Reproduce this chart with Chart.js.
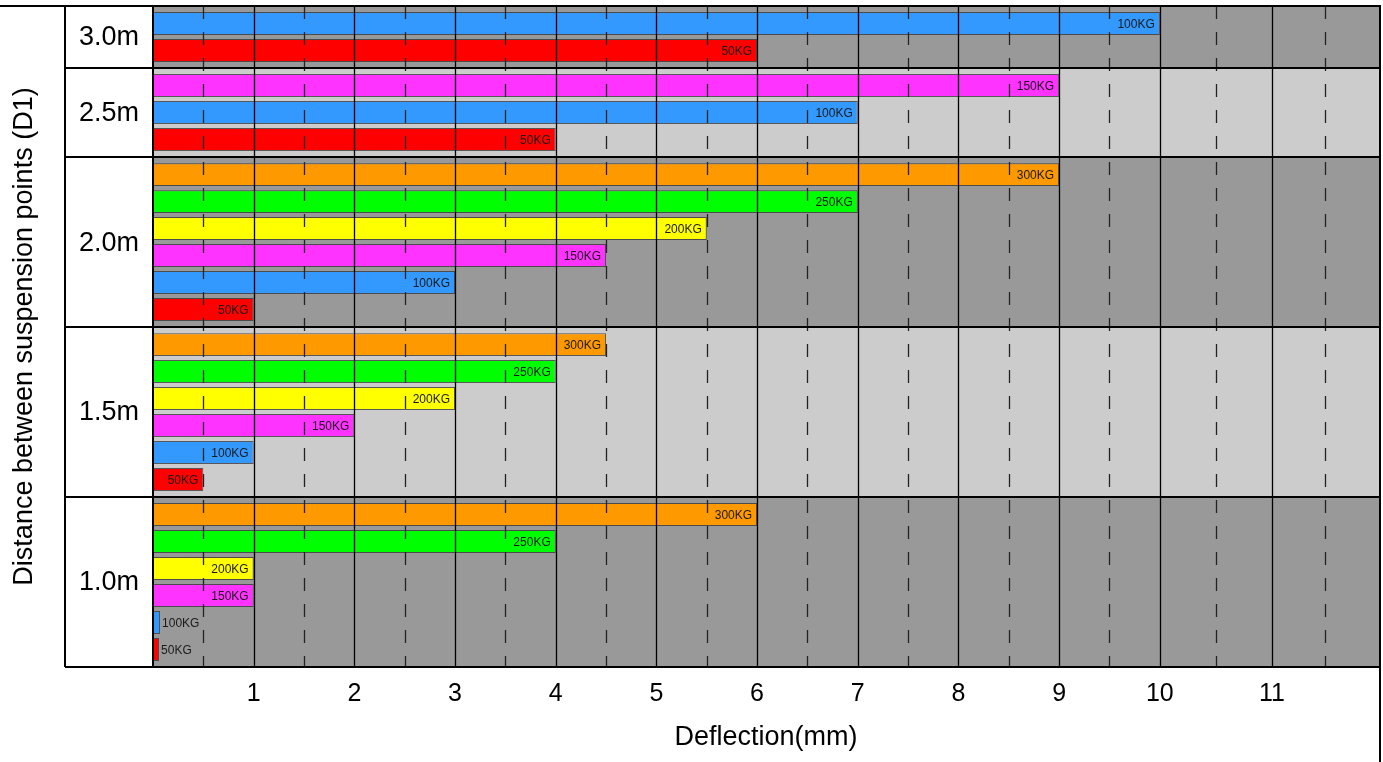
<!DOCTYPE html>
<html>
<head>
<meta charset="utf-8">
<script src="https://cdn.jsdelivr.net/npm/chart.js@4.4.0/dist/chart.umd.min.js"></script>
<style>
  html, body { margin: 0; padding: 0; background: #fff; }
  #wrap { width: 1383px; height: 762px; position: relative; }
</style>
</head>
<body>
<div id="wrap"><canvas id="chart"></canvas></div>
<script>
const distances = ['3.0m', '2.5m', '2.0m', '1.5m', '1.0m'];
const loads = ['50KG', '100KG', '150KG', '200KG', '250KG', '300KG'];

// deflection (mm) per span, listed from 50KG upward
const deflection30 = [6, 10];
const deflection25 = [4, 7, 9];
const deflection20 = [1, 3, 4.5, 5.5, 7, 9];
const deflection15 = [0.5, 1, 2, 3, 4, 4.5];
const deflection10 = [0.06, 0.07, 1, 1, 4, 6];

const xTickLabels = [1, 2, 3, 4, 5, 6, 7, 8, 9, 10, 11];

const loadColors = ['#ff0000', '#3399ff', '#ff33ff', '#ffff00', '#00ff00', '#ff9900'];
const bandColors = ['#999999', '#cccccc'];
const GROUP_GAP = 0.3;
const LABEL_COL_LEFT = 65;
const FONT = '"Liberation Sans", Arial, Helvetica, sans-serif';

// the drawn axis is not evenly spaced past 10mm, so the scale is piecewise
const AXIS_BREAKS = [0, 10, 11, 12];
const AXIS_FRACS = [0, 0.8212, 0.9127, 1];

function toFrac(v) {
  let i = 0;
  while (i < AXIS_BREAKS.length - 2 && v > AXIS_BREAKS[i + 1]) i++;
  const t = (v - AXIS_BREAKS[i]) / (AXIS_BREAKS[i + 1] - AXIS_BREAKS[i]);
  return AXIS_FRACS[i] + t * (AXIS_FRACS[i + 1] - AXIS_FRACS[i]);
}
function fromFrac(f) {
  let i = 0;
  while (i < AXIS_FRACS.length - 2 && f > AXIS_FRACS[i + 1]) i++;
  const t = (f - AXIS_FRACS[i]) / (AXIS_FRACS[i + 1] - AXIS_FRACS[i]);
  return AXIS_BREAKS[i] + t * (AXIS_BREAKS[i + 1] - AXIS_BREAKS[i]);
}

class BrokenLinearScale extends Chart.LinearScale {
  getPixelForValue(value) {
    if (value === null || value === undefined || isNaN(value)) return NaN;
    return this.getPixelForDecimal(toFrac(value));
  }
  getValueForPixel(pixel) {
    return fromFrac(this.getDecimalForPixel(pixel));
  }
}
BrokenLinearScale.id = 'brokenLinear';
BrokenLinearScale.defaults = Chart.LinearScale.defaults;
Chart.register(BrokenLinearScale);

// rows: heaviest load on top inside each span group
const groups = [deflection30, deflection25, deflection20, deflection15, deflection10];
const rows = [];
const spans = [];
let pos = 0;
groups.forEach((vals, g) => {
  if (g > 0) pos += GROUP_GAP;
  const start = pos;
  for (let i = vals.length - 1; i >= 0; i--) {
    rows.push({ x: vals[i], y: pos, load: i });
    pos += 1;
  }
  spans.push({ label: distances[g], from: start - 0.5 - GROUP_GAP / 2, to: pos - 0.5 + GROUP_GAP / 2 });
});

const groupPlugin = {
  id: 'groups',
  beforeDatasetsDraw(chart) {
    const { ctx, chartArea: a, scales: { y } } = chart;
    ctx.save();
    spans.forEach((s, i) => {
      const top = y.getPixelForValue(s.from);
      const bottom = y.getPixelForValue(s.to);
      ctx.fillStyle = bandColors[i % 2];
      ctx.fillRect(a.left, top, a.right - a.left, bottom - top);
    });
    ctx.restore();
  },
  afterDatasetsDraw(chart) {
    const { ctx, chartArea: a, scales: { x, y } } = chart;
    ctx.save();

    // bar labels
    ctx.font = '12px ' + FONT;
    ctx.fillStyle = '#1a1a1a';
    ctx.textBaseline = 'middle';
    const meta = chart.getDatasetMeta(0);
    meta.data.forEach((bar, i) => {
      const { x: end, y: cy, base } = bar.getProps(['x', 'y', 'base'], true);
      const text = loads[rows[i].load];
      const tw = ctx.measureText(text).width;
      if (tw + 9 < end - base) {
        ctx.textAlign = 'right';
        ctx.fillText(text, end - 5, cy + 1);
      } else {
        ctx.textAlign = 'left';
        ctx.fillText(text, end + 2, cy + 1);
      }
    });

    // grid over the bars: solid on whole mm, dashed on halves
    x.ticks.forEach(t => {
      if (t.value <= 0 || t.value >= 12) return;
      const px = Math.round(x.getPixelForValue(t.value)) + 0.5;
      ctx.beginPath();
      if (t.value % 1) {
        ctx.setLineDash([13, 13]);
        ctx.strokeStyle = '#222';
      } else {
        ctx.setLineDash([]);
        ctx.strokeStyle = '#000';
      }
      ctx.lineWidth = 1.3;
      ctx.moveTo(px, a.top);
      ctx.lineTo(px, a.bottom);
      ctx.stroke();
    });
    ctx.setLineDash([]);

    // group separators
    ctx.strokeStyle = '#000';
    ctx.lineWidth = 2;
    spans.forEach(s => {
      const py = y.getPixelForValue(s.to);
      ctx.beginPath();
      ctx.moveTo(LABEL_COL_LEFT, py);
      ctx.lineTo(a.right + 2, py);
      ctx.stroke();
    });

    // frame
    ctx.beginPath();
    ctx.moveTo(0, a.top);
    ctx.lineTo(a.right + 2, a.top);
    ctx.moveTo(a.right + 1, a.top);
    ctx.lineTo(a.right + 1, chart.height);
    ctx.moveTo(LABEL_COL_LEFT, a.top);
    ctx.lineTo(LABEL_COL_LEFT, a.bottom);
    ctx.moveTo(a.left, a.top);
    ctx.lineTo(a.left, a.bottom);
    ctx.stroke();

    // span labels in the left column
    ctx.font = '27px ' + FONT;
    ctx.fillStyle = '#000';
    ctx.textAlign = 'center';
    ctx.textBaseline = 'middle';
    spans.forEach(s => {
      const cy = (y.getPixelForValue(s.from) + y.getPixelForValue(s.to)) / 2;
      ctx.fillText(s.label, (LABEL_COL_LEFT + a.left) / 2, cy + 1);
    });
    ctx.restore();
  }
};

Chart.defaults.font.family = FONT;
Chart.defaults.color = '#000';

new Chart(document.getElementById('chart'), {
  type: 'bar',
  data: {
    datasets: [{
      data: rows.map(r => ({ x: r.x, y: r.y })),
      backgroundColor: rows.map(r => loadColors[r.load]),
      borderColor: 'rgba(50, 50, 50, 0.75)',
      borderWidth: 1,
      borderSkipped: false,
      barPercentage: 0.85,
      categoryPercentage: 1
    }]
  },
  options: {
    indexAxis: 'y',
    responsive: true,
    maintainAspectRatio: false,
    animation: false,
    layout: { padding: { top: 6, right: 4, left: 0, bottom: 0 } },
    plugins: { legend: { display: false }, tooltip: { enabled: false } },
    scales: {
      x: {
        type: 'brokenLinear',
        min: 0,
        max: 12,
        grid: { display: false, drawTicks: false },
        border: { display: true, color: '#000', width: 2 },
        ticks: {
          stepSize: 0.5,
          autoSkip: false,
          maxRotation: 0,
          padding: 12,
          font: { size: 25 },
          color: '#000',
          callback: v => xTickLabels.includes(v) ? String(v) : ''
        },
        title: { display: true, text: 'Deflection(mm)', font: { size: 27 }, color: '#000', padding: { top: 0, bottom: 8 } },
        afterFit: s => { s.height = 95; s.paddingLeft = 0; s.paddingRight = 0; }
      },
      y: {
        type: 'linear',
        reverse: true,
        min: spans[0].from,
        max: spans[spans.length - 1].to,
        grid: { display: false },
        border: { display: false },
        ticks: { display: false },
        afterBuildTicks: s => { s.ticks = []; },
        title: { display: true, text: 'Distance between suspension points (D1)', font: { size: 27 }, color: '#000', padding: { top: 8, bottom: 0 } },
        afterFit: s => { s.width = 153; }
      }
    }
  },
  plugins: [groupPlugin]
});
</script>
</body>
</html>
